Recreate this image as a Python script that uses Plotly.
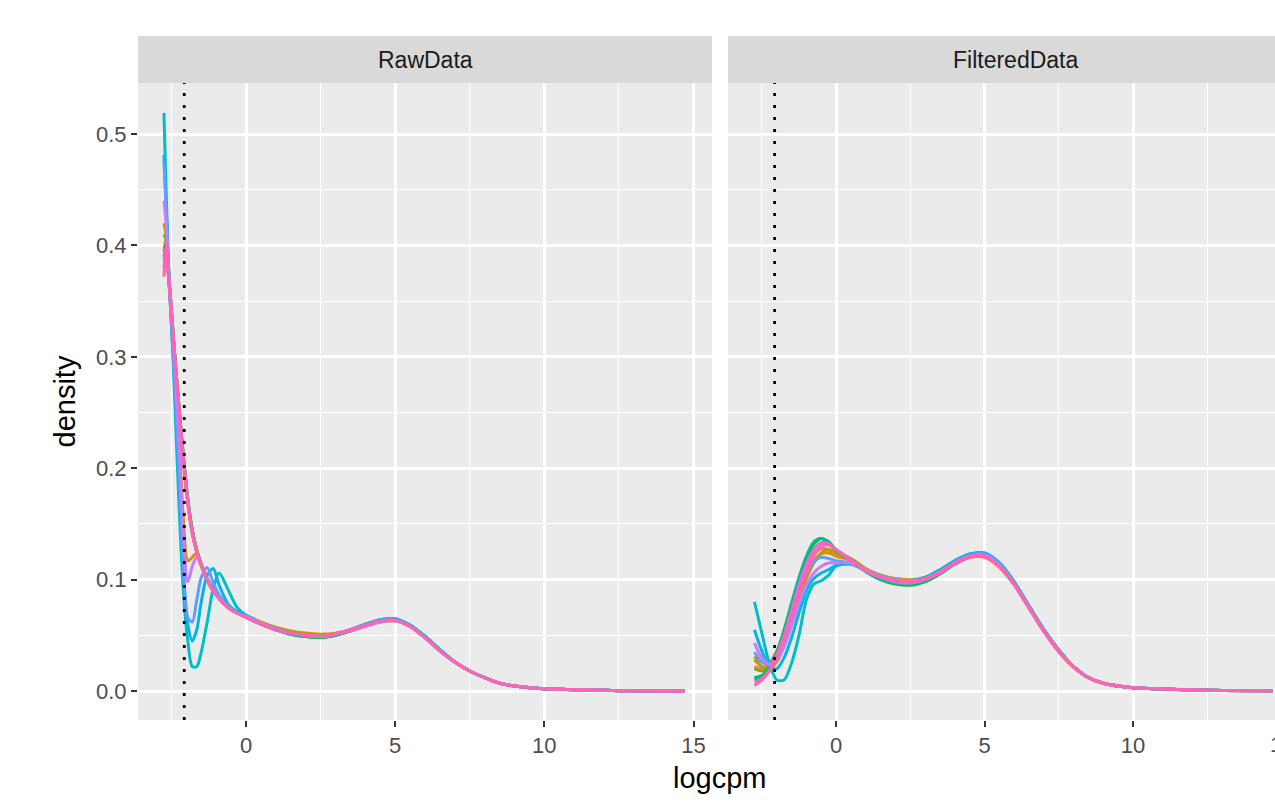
import plotly.graph_objects as go

# ---------------- data ----------------
sample_names = ["S01", "S02", "S03", "S04", "S05", "S06",
                "S07", "S08", "S09", "S10", "S11", "S12"]
sample_colors = ["#F8766D", "#DE8C00", "#B79F00", "#7CAE00", "#00BA38", "#00C08B",
                 "#00BFC4", "#00B4F0", "#619CFF", "#C77CFF", "#F564E3", "#FF64B0"]
panel_titles = ["RawData", "FilteredData"]
cutoff = -2.07

raw_logcpm = [-2.75, -2.68, -2.6, -2.5, -2.4, -2.25, -2.1, -1.95, -1.8, -1.65, -1.5, -1.3,
              -1.1, -0.9, -0.6, -0.3, 0, 0.5, 1, 1.5, 2, 2.5, 3, 3.5, 4, 4.5, 5, 5.5, 6,
              6.5, 7, 7.5, 8, 8.5, 9, 10, 11, 12, 13, 14.7]

raw_s01 = [0.388, 0.395, 0.372, 0.338, 0.303, 0.252, 0.207, 0.168, 0.141, 0.124, 0.112, 0.099, 0.090, 0.083, 0.075, 0.070,
           0.067, 0.061, 0.056, 0.053, 0.051, 0.050, 0.051, 0.054, 0.058, 0.062, 0.063, 0.058, 0.048, 0.036, 0.026, 0.018, 0.012, 0.007, 0.0045, 0.002, 0.0012, 0.0006, 0.0002, 0.0]
raw_s02 = [0.395, 0.405, 0.378, 0.340, 0.300, 0.232, 0.155, 0.117, 0.120, 0.124, 0.114, 0.100, 0.090, 0.083, 0.075, 0.070,
           0.067, 0.061, 0.057, 0.054, 0.052, 0.051, 0.052, 0.055, 0.059, 0.062, 0.063, 0.058, 0.048, 0.036, 0.026, 0.018, 0.012, 0.007, 0.0045, 0.002, 0.0012, 0.0006, 0.0002, 0.0]
raw_s03 = [0.420, 0.410, 0.380, 0.342, 0.305, 0.255, 0.208, 0.170, 0.143, 0.126, 0.113, 0.100, 0.090, 0.083, 0.075, 0.071,
           0.068, 0.062, 0.057, 0.053, 0.051, 0.050, 0.051, 0.055, 0.059, 0.063, 0.064, 0.058, 0.048, 0.036, 0.026, 0.018, 0.012, 0.007, 0.0045, 0.002, 0.0012, 0.0006, 0.0002, 0.0]
raw_s04 = [0.410, 0.405, 0.378, 0.342, 0.306, 0.257, 0.212, 0.173, 0.145, 0.127, 0.114, 0.101, 0.091, 0.084, 0.076, 0.071,
           0.067, 0.061, 0.055, 0.052, 0.049, 0.048, 0.050, 0.054, 0.059, 0.063, 0.064, 0.059, 0.049, 0.037, 0.026, 0.018, 0.012, 0.007, 0.0045, 0.002, 0.0012, 0.0006, 0.0002, 0.0]
raw_s05 = [0.400, 0.398, 0.374, 0.340, 0.305, 0.256, 0.211, 0.172, 0.144, 0.126, 0.114, 0.101, 0.091, 0.084, 0.076, 0.071,
           0.067, 0.060, 0.055, 0.051, 0.049, 0.048, 0.050, 0.054, 0.059, 0.063, 0.064, 0.059, 0.049, 0.037, 0.026, 0.018, 0.012, 0.007, 0.0045, 0.002, 0.0012, 0.0006, 0.0002, 0.0]
raw_s06 = [0.390, 0.400, 0.376, 0.341, 0.305, 0.255, 0.209, 0.170, 0.143, 0.125, 0.113, 0.100, 0.090, 0.083, 0.075, 0.070,
           0.066, 0.060, 0.055, 0.051, 0.049, 0.048, 0.050, 0.054, 0.059, 0.063, 0.064, 0.059, 0.049, 0.037, 0.026, 0.018, 0.012, 0.007, 0.0045, 0.002, 0.0012, 0.0006, 0.0002, 0.0]
raw_s07 = [0.519, 0.450, 0.385, 0.330, 0.270, 0.170, 0.090, 0.045, 0.022, 0.022, 0.035, 0.062, 0.092, 0.106, 0.091, 0.075,
           0.068, 0.061, 0.056, 0.052, 0.050, 0.049, 0.051, 0.055, 0.060, 0.064, 0.065, 0.059, 0.049, 0.037, 0.026, 0.018, 0.012, 0.007, 0.0045, 0.002, 0.0012, 0.0006, 0.0002, 0.0]
raw_s08 = [0.481, 0.440, 0.380, 0.330, 0.280, 0.190, 0.105, 0.060, 0.045, 0.055, 0.080, 0.104, 0.110, 0.095, 0.078, 0.071,
           0.068, 0.061, 0.056, 0.052, 0.050, 0.049, 0.051, 0.055, 0.060, 0.064, 0.065, 0.059, 0.049, 0.037, 0.026, 0.018, 0.012, 0.007, 0.0045, 0.002, 0.0012, 0.0006, 0.0002, 0.0]
raw_s09 = [0.475, 0.435, 0.378, 0.330, 0.285, 0.200, 0.115, 0.066, 0.062, 0.082, 0.102, 0.111, 0.097, 0.086, 0.076, 0.070,
           0.067, 0.061, 0.056, 0.052, 0.050, 0.049, 0.051, 0.055, 0.059, 0.063, 0.064, 0.058, 0.048, 0.036, 0.026, 0.018, 0.012, 0.007, 0.0045, 0.002, 0.0012, 0.0006, 0.0002, 0.0]
raw_s10 = [0.440, 0.420, 0.380, 0.342, 0.300, 0.225, 0.140, 0.098, 0.112, 0.120, 0.113, 0.100, 0.090, 0.083, 0.075, 0.070,
           0.067, 0.061, 0.056, 0.052, 0.050, 0.049, 0.051, 0.054, 0.058, 0.062, 0.063, 0.058, 0.048, 0.036, 0.026, 0.018, 0.012, 0.007, 0.0045, 0.002, 0.0012, 0.0006, 0.0002, 0.0]
raw_s11 = [0.380, 0.398, 0.373, 0.339, 0.304, 0.254, 0.209, 0.170, 0.142, 0.125, 0.113, 0.100, 0.090, 0.083, 0.075, 0.070,
           0.066, 0.060, 0.055, 0.052, 0.050, 0.049, 0.051, 0.055, 0.059, 0.063, 0.0635, 0.058, 0.048, 0.036, 0.026, 0.018, 0.012, 0.007, 0.0045, 0.002, 0.0012, 0.0006, 0.0002, 0.0]
raw_s12 = [0.372, 0.400, 0.375, 0.340, 0.305, 0.255, 0.210, 0.170, 0.142, 0.125, 0.113, 0.100, 0.090, 0.083, 0.075, 0.070,
           0.066, 0.060, 0.055, 0.052, 0.050, 0.049, 0.051, 0.055, 0.059, 0.063, 0.0635, 0.058, 0.048, 0.036, 0.026, 0.018, 0.012, 0.007, 0.0045, 0.002, 0.0012, 0.0006, 0.0002, 0.0]

filt_logcpm = [-2.75, -2.5, -2.25, -2.0, -1.75, -1.5, -1.25, -1.0, -0.75, -0.5, -0.25, 0,
               0.5, 1, 1.5, 2, 2.5, 3, 3.5, 4, 4.5, 5, 5.5, 6, 6.5, 7, 7.5, 8, 8.5, 9,
               10, 11, 12, 13, 14.7]

filt_s01 = [0.022, 0.020, 0.025, 0.036, 0.052, 0.072, 0.092, 0.110, 0.123, 0.128, 0.127, 0.122,
            0.118, 0.109, 0.103, 0.100, 0.099, 0.101, 0.106, 0.114, 0.120, 0.120, 0.111, 0.095, 0.074, 0.053, 0.035, 0.021, 0.012, 0.007, 0.003, 0.0018, 0.001, 0.0005, 0.0002]
filt_s02 = [0.028, 0.022, 0.022, 0.030, 0.045, 0.065, 0.086, 0.104, 0.117, 0.123, 0.124, 0.121,
            0.117, 0.109, 0.104, 0.101, 0.100, 0.102, 0.107, 0.114, 0.120, 0.121, 0.112, 0.096, 0.075, 0.054, 0.036, 0.022, 0.012, 0.007, 0.003, 0.0018, 0.001, 0.0005, 0.0002]
filt_s03 = [0.031, 0.022, 0.020, 0.026, 0.040, 0.060, 0.082, 0.101, 0.115, 0.124, 0.127, 0.124,
            0.119, 0.110, 0.104, 0.100, 0.098, 0.100, 0.106, 0.115, 0.122, 0.122, 0.113, 0.096, 0.075, 0.054, 0.036, 0.022, 0.012, 0.007, 0.003, 0.0018, 0.001, 0.0005, 0.0002]
filt_s04 = [0.020, 0.018, 0.022, 0.034, 0.052, 0.074, 0.096, 0.114, 0.127, 0.133, 0.132, 0.126,
            0.118, 0.108, 0.101, 0.097, 0.096, 0.099, 0.106, 0.115, 0.122, 0.122, 0.113, 0.096, 0.075, 0.054, 0.036, 0.022, 0.012, 0.007, 0.003, 0.0018, 0.001, 0.0005, 0.0002]
filt_s05 = [0.012, 0.014, 0.021, 0.034, 0.054, 0.077, 0.100, 0.119, 0.132, 0.137, 0.134, 0.127,
            0.118, 0.108, 0.100, 0.096, 0.095, 0.098, 0.105, 0.114, 0.121, 0.122, 0.114, 0.097, 0.076, 0.055, 0.037, 0.022, 0.012, 0.007, 0.003, 0.0018, 0.001, 0.0005, 0.0002]
filt_s06 = [0.010, 0.013, 0.020, 0.034, 0.055, 0.079, 0.102, 0.121, 0.134, 0.137, 0.133, 0.126,
            0.117, 0.107, 0.100, 0.097, 0.096, 0.099, 0.106, 0.115, 0.122, 0.123, 0.114, 0.097, 0.076, 0.055, 0.037, 0.022, 0.012, 0.007, 0.003, 0.0018, 0.001, 0.0005, 0.0002]
filt_s07 = [0.080, 0.052, 0.025, 0.010, 0.010, 0.025, 0.050, 0.082, 0.096, 0.099, 0.104, 0.112,
            0.114, 0.108, 0.103, 0.100, 0.099, 0.102, 0.109, 0.117, 0.123, 0.124, 0.115, 0.098, 0.076, 0.055, 0.036, 0.022, 0.012, 0.007, 0.003, 0.0018, 0.001, 0.0005, 0.0002]
filt_s08 = [0.055, 0.036, 0.022, 0.020, 0.030, 0.048, 0.070, 0.090, 0.101, 0.106, 0.109, 0.113,
            0.114, 0.108, 0.103, 0.100, 0.099, 0.102, 0.108, 0.117, 0.123, 0.124, 0.115, 0.098, 0.076, 0.055, 0.036, 0.022, 0.012, 0.007, 0.003, 0.0018, 0.001, 0.0005, 0.0002]
filt_s09 = [0.035, 0.026, 0.024, 0.032, 0.048, 0.068, 0.089, 0.106, 0.116, 0.120, 0.119, 0.117,
            0.115, 0.108, 0.102, 0.099, 0.098, 0.101, 0.107, 0.116, 0.122, 0.123, 0.114, 0.097, 0.075, 0.054, 0.036, 0.022, 0.012, 0.007, 0.003, 0.0018, 0.001, 0.0005, 0.0002]
filt_s10 = [0.043, 0.030, 0.024, 0.028, 0.040, 0.058, 0.078, 0.095, 0.106, 0.112, 0.115, 0.115,
            0.115, 0.109, 0.103, 0.100, 0.099, 0.101, 0.107, 0.115, 0.121, 0.122, 0.113, 0.096, 0.075, 0.054, 0.036, 0.022, 0.012, 0.007, 0.003, 0.0018, 0.001, 0.0005, 0.0002]
filt_s11 = [0.008, 0.011, 0.018, 0.031, 0.050, 0.072, 0.095, 0.114, 0.127, 0.133, 0.132, 0.127,
            0.118, 0.108, 0.102, 0.098, 0.097, 0.100, 0.106, 0.114, 0.120, 0.121, 0.112, 0.096, 0.075, 0.054, 0.036, 0.022, 0.012, 0.007, 0.003, 0.0018, 0.001, 0.0005, 0.0002]
filt_s12 = [0.005, 0.010, 0.018, 0.030, 0.048, 0.068, 0.088, 0.106, 0.121, 0.130, 0.131, 0.127,
            0.117, 0.108, 0.102, 0.099, 0.098, 0.101, 0.107, 0.115, 0.121, 0.121, 0.112, 0.096, 0.075, 0.054, 0.036, 0.022, 0.012, 0.007, 0.003, 0.0018, 0.001, 0.0005, 0.0002]

raw_series = [raw_s01, raw_s02, raw_s03, raw_s04, raw_s05, raw_s06,
              raw_s07, raw_s08, raw_s09, raw_s10, raw_s11, raw_s12]
filt_series = [filt_s01, filt_s02, filt_s03, filt_s04, filt_s05, filt_s06,
               filt_s07, filt_s08, filt_s09, filt_s10, filt_s11, filt_s12]

# ---------------- figure ----------------
W, H = 1275, 810
ML, MR, MT, MB = 138, 0, 83, 90
PW = W - ML - MR
PH = H - MT - MB

def px_x(p):
    return (p - ML) / PW

FONT = "Liberation Sans, Arial, Helvetica, sans-serif"
TICK_SIZE = 22
STRIP_SIZE = 23
TITLE_SIZE = 29
LINE_W = 3

fig = go.Figure()
for name, col, ys in zip(sample_names, sample_colors, raw_series):
    fig.add_trace(go.Scatter(x=raw_logcpm, y=ys, mode="lines", name=name,
                             line=dict(color=col, width=LINE_W, shape="spline", smoothing=0.8),
                             xaxis="x", yaxis="y", showlegend=False))
for name, col, ys in zip(sample_names, sample_colors, filt_series):
    fig.add_trace(go.Scatter(x=filt_logcpm, y=ys, mode="lines", name=name,
                             line=dict(color=col, width=LINE_W, shape="spline", smoothing=0.8),
                             xaxis="x2", yaxis="y2", showlegend=False))

grid_major = 2.6
grid_minor = 1.3
xcommon = dict(tick0=0, dtick=5, ticks="outside", ticklen=6, tickwidth=2.2,
               tickcolor="#333333", showgrid=True, gridcolor="white", gridwidth=grid_major,
               minor=dict(dtick=2.5, tick0=0, showgrid=True, gridcolor="white", gridwidth=grid_minor),
               zeroline=False, showline=False,
               tickfont=dict(family=FONT, size=TICK_SIZE, color="#4D4D4D"))
ycommon = dict(range=[-0.026, 0.5458], tick0=0, dtick=0.1, tickformat=".1f",
               showgrid=True, gridcolor="white", gridwidth=grid_major,
               minor=dict(dtick=0.05, tick0=0, showgrid=True, gridcolor="white", gridwidth=grid_minor),
               zeroline=False, showline=False)

left_dom = [0, px_x(712)]
right_dom = [px_x(728), 1.0]

fig.update_layout(
    width=W, height=H,
    margin=dict(l=ML, r=MR, t=MT, b=MB, pad=0),
    paper_bgcolor="white", plot_bgcolor="#EBEBEB",
    xaxis=dict(domain=left_dom, range=[-3.62, 15.62], anchor="y", **xcommon),
    xaxis2=dict(domain=right_dom, range=[-3.64, 14.78], anchor="y2", **xcommon),
    yaxis=dict(domain=[0, 1], anchor="x", ticks="outside", ticklen=6, tickwidth=2.2,
               tickcolor="#333333", tickfont=dict(family=FONT, size=TICK_SIZE, color="#4D4D4D"),
               **ycommon),
    yaxis2=dict(domain=[0, 1], anchor="x2", matches="y", showticklabels=False, ticks="",
                **ycommon),
    font=dict(family=FONT),
)

# cutoff lines
for xr in ["x", "x2"]:
    fig.add_shape(type="line", xref=xr, yref="paper", x0=cutoff, x1=cutoff, y0=0, y1=1,
                  line=dict(color="black", width=2.8, dash="3px,9px"), layer="above")

# strips
strip_top = 1 + (MT - 36) / PH
for xr in ["x domain", "x2 domain"]:
    fig.add_shape(type="rect", xref=xr, yref="paper", x0=0, x1=1, y0=1, y1=strip_top,
                  fillcolor="#D9D9D9", line=dict(width=0), layer="below")

strip_y = 1 + (MT - 59.5) / PH
fig.add_annotation(text=panel_titles[0], xref="paper", yref="paper", x=px_x(425), y=strip_y,
                   showarrow=False, xanchor="center", yanchor="middle",
                   font=dict(family=FONT, size=STRIP_SIZE, color="#1A1A1A"))
fig.add_annotation(text=panel_titles[1], xref="paper", yref="paper", x=px_x(1015), y=strip_y,
                   showarrow=False, xanchor="center", yanchor="middle",
                   font=dict(family=FONT, size=STRIP_SIZE, color="#1A1A1A"))

# partially visible tick label "15" of the right panel (cut by the image edge, as in the reference)
fig.add_annotation(text="15", xref="paper", yref="paper", x=px_x(836 + 15 * 29.7), y=0,
                   yshift=-10, showarrow=False, xanchor="center", yanchor="top",
                   font=dict(family=FONT, size=TICK_SIZE, color="#4D4D4D"))

# axis titles
fig.add_annotation(text="logcpm", xref="paper", yref="paper", x=px_x(720), y=-(778 - (H - MB)) / PH,
                   showarrow=False, xanchor="center", yanchor="middle",
                   font=dict(family=FONT, size=TITLE_SIZE, color="black"))
fig.add_annotation(text="density", xref="paper", yref="paper", x=px_x(64), y=0.5,
                   textangle=-90, showarrow=False, xanchor="center", yanchor="middle",
                   font=dict(family=FONT, size=TITLE_SIZE, color="black"))

fig.write_html("out.html")
